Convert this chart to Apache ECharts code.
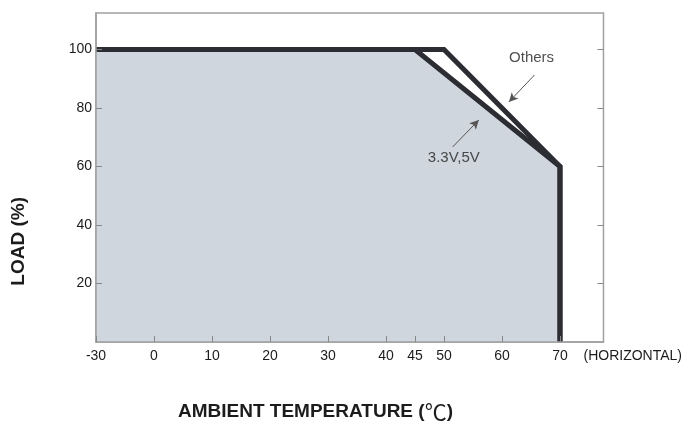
<!DOCTYPE html>
<html><head><meta charset="utf-8">
<script src="https://cdn.jsdelivr.net/npm/echarts@6/dist/echarts.min.js"></script>
<style>html,body{margin:0;padding:0;background:#fff}#c{width:685px;height:426px}</style>
</head><body><div id="c"></div>
<script>
// Ambient temperature (°C) breakpoints
const othersTemp = [-30, 50, 70, 70];
const othersLoad = [100, 100, 60, 0];
const lowVTemp = [-30, 45, 70, 70];
const lowVLoad = [100, 100, 60, 0];
const xTickValues = [-30, 0, 10, 20, 30, 40, 45, 50, 60, 70];
const yTickValues = [20, 40, 60, 80, 100];
const annotationNames = ['Others', '3.3V,5V'];
const annotationTemp = [65.1, 51.7];
const annotationLoad = [97.1, 62.9];
const arrowFrom = [[65.6, 91.3], [51.5, 66.7]];
const arrowTo = [[61.2, 82.1], [56.0, 75.9]];

// -30..0 segment of the axis is compressed (broken axis)
const tx = v => v < 0 ? v / 3 : v;
const inv = t => t < 0 ? Math.round(t * 3) : t;
const pts = (xs, ys) => xs.map((x, i) => [tx(x), ys[i]]);

const chart = echarts.init(document.getElementById('c'));
const dark = '#2b2d33';
const ink = '#1c1c1c';
const font = 'Arial, "Liberation Sans", sans-serif';
chart.setOption({
  animation: false,
  grid: {left: 96, right: 80, top: 13, bottom: 84, show: true, borderColor: '#a0a0a0', borderWidth: 1.5, backgroundColor: 'transparent'},
  xAxis: {
    type: 'value', min: -10, max: 77.5, z: 10,
    axisLine: {show: true, onZero: false, lineStyle: {color: '#a0a0a0', width: 1.5}},
    splitLine: {show: false},
    axisTick: {show: true, inside: true, length: 6, lineStyle: {color: '#888'}, customValues: xTickValues.map(tx)},
    axisLabel: {show: true, margin: 7, fontSize: 14, color: ink, fontFamily: font, customValues: xTickValues.map(tx), formatter: v => String(inv(v))},
    name: '(HORIZONTAL)', nameLocation: 'end', nameGap: -20,
    nameTextStyle: {fontSize: 14, color: ink, fontFamily: font, align: 'left', verticalAlign: 'top', padding: [7, 0, 0, 0]}
  },
  yAxis: [{
    type: 'value', min: 0, max: 112.5, z: 10,
    axisLine: {show: true, onZero: false, lineStyle: {color: '#a0a0a0', width: 1.5}},
    splitLine: {show: false},
    axisTick: {show: true, inside: true, length: 6, lineStyle: {color: '#888'}, customValues: yTickValues},
    axisLabel: {show: true, margin: 4, fontSize: 14, color: ink, fontFamily: font, customValues: yTickValues}
  }, {
    type: 'value', min: 0, max: 112.5, position: 'right', z: 10,
    axisLine: {show: false, onZero: false},
    splitLine: {show: false},
    axisTick: {show: true, inside: true, length: 6, lineStyle: {color: '#888'}, customValues: yTickValues},
    axisLabel: {show: false}
  }],
  series: [{
    name: '3.3V,5V', type: 'line', data: pts(lowVTemp, lowVLoad), symbol: 'none',
    lineStyle: {color: dark, width: 5, join: 'miter'},
    areaStyle: {color: '#cfd6de', opacity: 1}, z: 3
  }, {
    name: 'Others', type: 'line', data: pts(othersTemp, othersLoad), symbol: 'none',
    lineStyle: {color: dark, width: 5, join: 'miter'}, z: 4,
    markLine: {
      silent: true, symbol: ['none', 'arrow'], symbolSize: [7, 9],
      lineStyle: {color: '#555', width: 1, type: 'solid'}, label: {show: false},
      data: arrowFrom.map((f, i) => [{coord: f}, {coord: arrowTo[i]}])
    }
  }, {
    type: 'scatter', symbolSize: 0, z: 5,
    data: annotationNames.map((n, i) => ({name: n, value: [annotationTemp[i], annotationLoad[i]]})),
    label: {show: true, position: 'inside', formatter: p => p.name, fontSize: 15, color: '#222', fontFamily: font}
  }],
  graphic: [{
    type: 'text', left: 9, top: 197, rotation: Math.PI / 2,
    style: {text: 'LOAD (%)', font: 'bold 19px ' + font, fill: ink}
  }, {
    type: 'text', left: 178, top: 401,
    style: {text: '{b|AMBIENT TEMPERATURE (}{c|℃}{b|)}', rich: {
      b: {font: 'bold 19px ' + font, fill: ink},
      c: {font: '22px "Noto Sans CJK SC"', fill: ink}
    }}
  }]
});
</script></body></html>
